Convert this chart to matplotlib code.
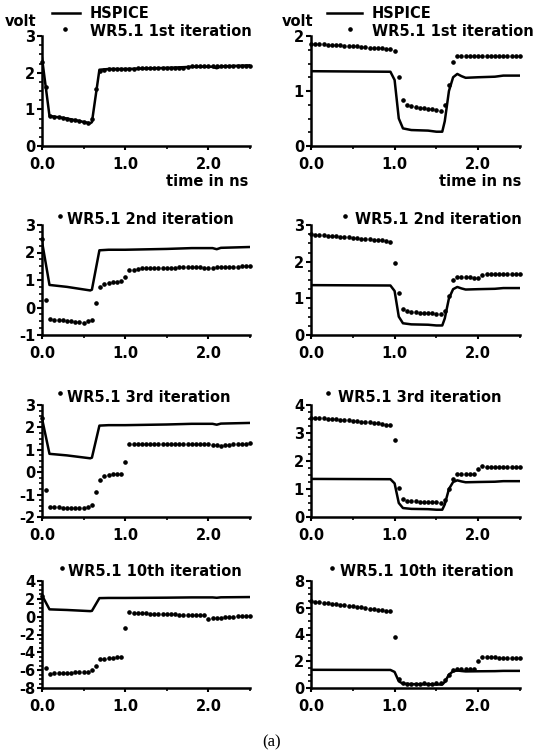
import matplotlib
matplotlib.use("Agg")
import matplotlib.pyplot as plt
from matplotlib.ticker import AutoMinorLocator, MultipleLocator

plt.rcParams["font.family"] = ["DejaVu Sans"]
plt.rcParams["font.weight"] = "bold"
plt.rcParams["axes.unicode_minus"] = False

# WR5.1 sample times (ns)
t_wr = [0.00, 0.05, 0.10, 0.15, 0.20, 0.25, 0.30, 0.35, 0.40, 0.45,
        0.50, 0.55, 0.60, 0.65, 0.70, 0.75, 0.80, 0.85, 0.90, 0.95,
        1.00, 1.05, 1.10, 1.15, 1.20, 1.25, 1.30, 1.35, 1.40, 1.45,
        1.50, 1.55, 1.60, 1.65, 1.70, 1.75, 1.80, 1.85, 1.90, 1.95,
        2.00, 2.05, 2.10, 2.15, 2.20, 2.25, 2.30, 2.35, 2.40, 2.45, 2.50]

# HSPICE reference waveforms
t_hs_left = [0.0, 0.09, 0.3, 0.58, 0.6, 0.69, 0.8, 1.0, 1.5, 1.8, 2.05, 2.1, 2.15, 2.5]
v_hs_left = [2.4, 0.82, 0.75, 0.62, 0.65, 2.08, 2.1, 2.1, 2.13, 2.16, 2.16, 2.12, 2.17, 2.2]
t_hs_right = [0.0, 0.95, 1.0, 1.05, 1.1, 1.2, 1.4, 1.5, 1.57, 1.6, 1.65, 1.7,
              1.75, 1.8, 1.85, 2.0, 2.2, 2.3, 2.5]
v_hs_right = [1.36, 1.35, 1.2, 0.5, 0.32, 0.29, 0.28, 0.26, 0.26, 0.45, 1.0, 1.25,
              1.31, 1.27, 1.24, 1.25, 1.26, 1.28, 1.28]

# WR5.1 iterations, left node
wr_left_1 = [2.3, 1.6, 0.82, 0.80, 0.78, 0.76, 0.74, 0.72, 0.70, 0.68,
             0.66, 0.63, 0.75, 1.55, 2.05, 2.08, 2.1, 2.1, 2.1, 2.1,
             2.1, 2.11, 2.11, 2.12, 2.12, 2.12, 2.12, 2.13, 2.13, 2.13,
             2.13, 2.13, 2.13, 2.14, 2.14, 2.16, 2.17, 2.17, 2.17, 2.17,
             2.17, 2.17, 2.17, 2.17, 2.17, 2.17, 2.17, 2.17, 2.17, 2.17, 2.17]
wr_left_2 = [2.5, 0.27, -0.42, -0.45, -0.46, -0.47, -0.5, -0.5, -0.52, -0.53,
             -0.55, -0.5, -0.46, 0.15, 0.75, 0.85, 0.9, 0.92, 0.92, 0.95,
             1.1, 1.36, 1.38, 1.4, 1.42, 1.42, 1.43, 1.43, 1.43, 1.43,
             1.43, 1.44, 1.45, 1.46, 1.47, 1.47, 1.47, 1.46, 1.46, 1.45,
             1.45, 1.45, 1.46, 1.47, 1.47, 1.47, 1.48, 1.49, 1.5, 1.52, 1.52]
wr_left_3 = [2.4, -0.8, -1.55, -1.55, -1.55, -1.58, -1.6, -1.6, -1.6, -1.6,
             -1.58, -1.55, -1.45, -0.9, -0.36, -0.16, -0.12, -0.1, -0.1, -0.1,
             0.45, 1.24, 1.26, 1.27, 1.27, 1.28, 1.28, 1.28, 1.28, 1.28,
             1.28, 1.28, 1.28, 1.28, 1.28, 1.28, 1.28, 1.27, 1.27, 1.26,
             1.24, 1.22, 1.2, 1.18, 1.2, 1.22, 1.24, 1.25, 1.27, 1.28, 1.3]
wr_left_10 = [2.3, -5.75, -6.4, -6.35, -6.35, -6.35, -6.35, -6.3, -6.2, -6.2,
              -6.2, -6.15, -6.0, -5.5, -4.75, -4.7, -4.65, -4.6, -4.55, -4.55,
              -1.3, 0.48, 0.42, 0.4, 0.38, 0.36, 0.35, 0.35, 0.35, 0.35,
              0.33, 0.3, 0.25, 0.2, 0.2, 0.2, 0.2, 0.2, 0.18, 0.15,
              -0.3, -0.15, -0.12, -0.1, -0.05, -0.02, 0.0, 0.02, 0.05, 0.08, 0.1]

# WR5.1 iterations, right node
wr_right_1 = [1.86, 1.86, 1.85, 1.85, 1.84, 1.84, 1.83, 1.83, 1.82, 1.82,
              1.81, 1.81, 1.8, 1.8, 1.79, 1.79, 1.78, 1.78, 1.77, 1.76,
              1.72, 1.26, 0.83, 0.74, 0.72, 0.71, 0.7, 0.69, 0.68, 0.67,
              0.65, 0.63, 0.74, 1.11, 1.52, 1.63, 1.64, 1.64, 1.64, 1.64,
              1.64, 1.64, 1.64, 1.64, 1.64, 1.64, 1.64, 1.64, 1.64, 1.64, 1.64]
wr_right_2 = [2.75, 2.74, 2.73, 2.72, 2.71, 2.70, 2.69, 2.68, 2.67, 2.66,
              2.65, 2.64, 2.63, 2.62, 2.61, 2.6, 2.59, 2.58, 2.56, 2.54,
              1.96, 1.15, 0.7, 0.65, 0.63, 0.62, 0.61, 0.6, 0.6, 0.59,
              0.58, 0.58, 0.65, 1.06, 1.49, 1.58, 1.58, 1.58, 1.57, 1.56,
              1.55, 1.64, 1.66, 1.67, 1.67, 1.67, 1.67, 1.67, 1.67, 1.67, 1.67]
wr_right_3 = [3.55, 3.54, 3.53, 3.52, 3.51, 3.5, 3.49, 3.48, 3.46, 3.45,
              3.44, 3.42, 3.41, 3.4, 3.38, 3.36, 3.34, 3.32, 3.3, 3.28,
              2.75, 1.05, 0.63, 0.58, 0.57, 0.56, 0.55, 0.55, 0.54, 0.53,
              0.52, 0.5, 0.62, 1.0, 1.37, 1.55, 1.55, 1.55, 1.55, 1.55,
              1.7, 1.81, 1.8, 1.79, 1.78, 1.78, 1.78, 1.78, 1.78, 1.78, 1.78]
wr_right_10 = [6.5, 6.45, 6.42, 6.38, 6.35, 6.3, 6.27, 6.22, 6.18, 6.14,
               6.1, 6.05, 6.02, 5.98, 5.94, 5.9, 5.85, 5.8, 5.77, 5.72,
               3.85, 0.7, 0.35, 0.3, 0.3, 0.32, 0.3, 0.35, 0.3, 0.3,
               0.35, 0.4, 0.6, 1.0, 1.35, 1.4, 1.42, 1.42, 1.4, 1.4,
               2.05, 2.35, 2.35, 2.32, 2.3, 2.28, 2.27, 2.27, 2.27, 2.27, 2.27]

labels = ["1st", "2nd", "3rd", "10th"]
left_series = [wr_left_1, wr_left_2, wr_left_3, wr_left_10]
right_series = [wr_right_1, wr_right_2, wr_right_3, wr_right_10]
left_ylims = [(0, 3), (-1, 3), (-2, 3), (-8, 4)]
right_ylims = [(0, 2), (0, 3), (0, 4), (0, 8)]
left_ysteps = [1, 1, 1, 2]
right_ysteps = [1, 1, 1, 2]

W, H = 549, 756
fig = plt.figure(figsize=(W / 100, H / 100), dpi=100)

# axes boxes in pixels: (top, bottom)
rows_px = [(36, 146), (225, 335), (405, 517), (581, 688)]
cols_px = [(42, 250), (311, 520)]
MS = 2.3


def fx(x):
    return x / W


def fy(y):
    return 1 - y / H


def panel(ax, t_hs, v_hs, wr, ylim, ystep):
    ax.plot(t_hs, v_hs, color="black", lw=1.8, solid_joinstyle="round")
    ax.plot(t_wr, wr, "o", color="black", ms=MS, mec="black", clip_on=False)
    ax.set_xlim(0, 2.5)
    ax.set_ylim(*ylim)
    for s in ["top", "right"]:
        ax.spines[s].set_visible(False)
    for s in ["left", "bottom"]:
        ax.spines[s].set_linewidth(1.8)
    ax.set_xticks([0, 1, 2])
    ax.set_xticklabels(["0.0", "1.0", "2.0"])
    ax.xaxis.set_minor_locator(MultipleLocator(0.5))
    ax.set_yticks(range(ylim[0], ylim[1] + 1, ystep))
    ax.yaxis.set_minor_locator(AutoMinorLocator(4))
    ax.tick_params(axis="x", which="major", length=3, width=1.5, pad=5, labelsize=10.5)
    ax.tick_params(axis="y", which="major", length=3.5, width=1.5, pad=1.5, labelsize=10.5)
    ax.tick_params(which="minor", length=2, width=1.2)


for r in range(4):
    top, bot = rows_px[r]
    for c in range(2):
        x0, x1 = cols_px[c]
        ax = fig.add_axes([fx(x0), fy(bot), (x1 - x0) / W, (bot - top) / H])
        if c == 0:
            panel(ax, t_hs_left, v_hs_left, left_series[r], left_ylims[r], left_ysteps[r])
        else:
            panel(ax, t_hs_right, v_hs_right, right_series[r], right_ylims[r], right_ysteps[r])

# legend block in the top panels
for lx0, lx1, tx, dx, vx in [(52, 80, 90, 65, 5), (327, 362, 372, 350, 282)]:
    fig.add_artist(plt.Line2D([fx(lx0), fx(lx1)], [fy(13), fy(13)], color="black", lw=1.8))
    fig.text(fx(tx), fy(13), "HSPICE", fontsize=10.5, va="center", ha="left")
    fig.add_artist(plt.Line2D([fx(dx)], [fy(29)], marker="o", ms=MS, color="black"))
    fig.text(fx(tx), fy(32), "WR5.1 1st iteration", fontsize=10.5, va="center", ha="left")
    fig.text(fx(vx), fy(21), "volt", fontsize=10.5, va="center", ha="left")

fig.text(fx(248), fy(182), "time in ns", fontsize=10.5, va="center", ha="right")
fig.text(fx(521), fy(182), "time in ns", fontsize=10.5, va="center", ha="right")

# iteration titles for rows 2-4: (dot x, text x, y) for left and right
titles = [
    [(60, 67, 220), (345, 355, 220)],
    [(60, 67, 397), (328, 338, 397)],
    [(62, 68, 572), (332, 340, 572)],
]
for r, row in enumerate(titles):
    for dx, tx, ty in row:
        fig.add_artist(plt.Line2D([fx(dx)], [fy(ty - 4)], marker="o", ms=MS, color="black"))
        fig.text(fx(tx), fy(ty), "WR5.1 %s iteration" % labels[r + 1],
                 fontsize=10.5, va="center", ha="left")

fig.text(fx(272), fy(742), "(a)", fontsize=12, family="Liberation Serif",
         fontweight="normal", va="center", ha="center")

fig.savefig("out.png", dpi=100)
